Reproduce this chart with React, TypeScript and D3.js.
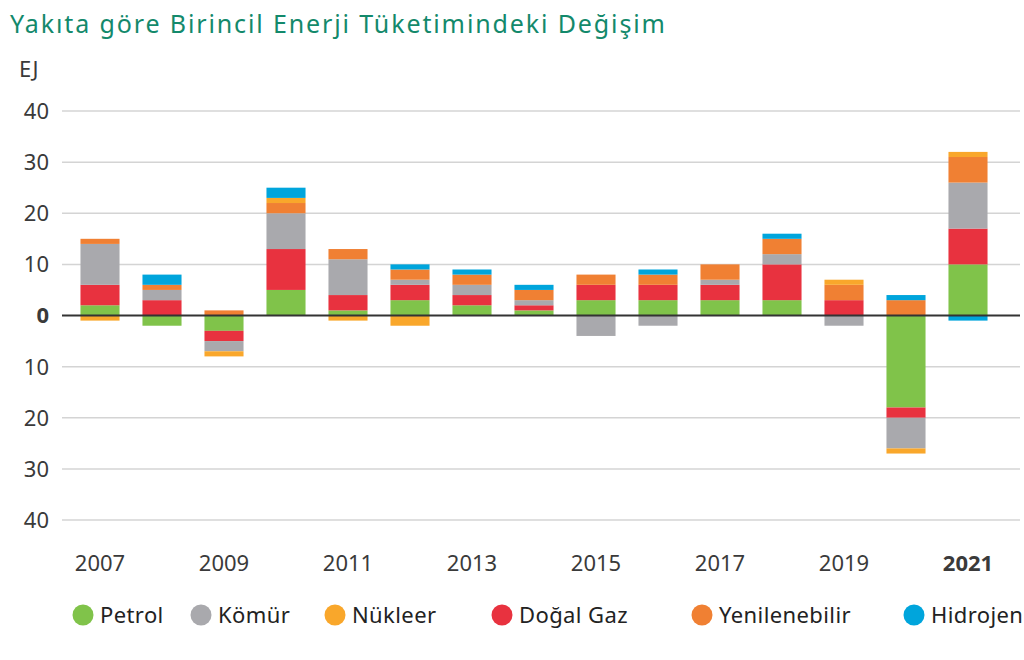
import { useEffect, useRef } from "react";
import * as d3 from "d3";

const years = [2007, 2008, 2009, 2010, 2011, 2012, 2013, 2014, 2015, 2016, 2017, 2018, 2019, 2020, 2021];
const labelYears = [2007, 2009, 2011, 2013, 2015, 2017, 2019, 2021];

// EJ, change vs previous year
const petrol = [2, -2, -3, 5, 1, 3, 2, 1, 3, 3, 3, 3, 0, -18, 10];
const dogalGaz = [4, 3, -2, 8, 3, 3, 2, 1, 3, 3, 3, 7, 3, -2, 7];
const komur = [8, 2, -2, 7, 7, 1, 2, 1, -4, -2, 1, 2, -2, -6, 9];
const yenilenebilir = [1, 1, 1, 2, 2, 2, 2, 2, 2, 2, 3, 3, 3, 3, 5];
const nukleer = [-1, 0, -1, 1, -1, -2, 0, 0, 0, 0, 0, 0, 1, -1, 1];
const hidro = [0, 2, 0, 2, 0, 1, 1, 1, 0, 1, 0, 1, 0, 1, -1];

const yTicks = [-40, -30, -20, -10, 0, 10, 20, 30, 40];

const stackKeys = ["Petrol", "Doğal Gaz", "Kömür", "Yenilenebilir", "Nükleer", "Hidrojen"];
const legendKeys = ["Petrol", "Kömür", "Nükleer", "Doğal Gaz", "Yenilenebilir", "Hidrojen"];

const colors: Record<string, string> = {
  Petrol: "#80c34a",
  Kömür: "#a9a9ad",
  Nükleer: "#f9a72b",
  "Doğal Gaz": "#e8323f",
  Yenilenebilir: "#f08033",
  Hidrojen: "#00a5dc",
};

const legendX = [83, 201, 335, 502, 702, 914];

export default function App() {
  const ref = useRef<SVGSVGElement>(null);

  useEffect(() => {
    document.body.style.margin = "0";
    if (!ref.current) return;
    const svg = d3.select(ref.current);
    svg.selectAll("*").remove();

    const font = "'Noto Sans', sans-serif";

    const rows = years.map((y, i) => ({
      year: y,
      Petrol: petrol[i],
      "Doğal Gaz": dogalGaz[i],
      Kömür: komur[i],
      Yenilenebilir: yenilenebilir[i],
      Nükleer: nukleer[i],
      Hidrojen: hidro[i],
    }));

    const series = d3
      .stack<any>()
      .keys(stackKeys)
      .offset(d3.stackOffsetDiverging)(rows);

    const x = d3
      .scaleBand<number>()
      .domain(years)
      .range([69, 999])
      .paddingInner(0.37)
      .paddingOuter(0.185);

    const y = d3.scaleLinear().domain([-40, 40]).range([520, 111]);

    // title
    svg
      .append("text")
      .attr("x", 10)
      .attr("y", 33)
      .attr("font-family", font)
      .attr("font-size", 25)
      .attr("textLength", 655)
      .attr("lengthAdjust", "spacing")
      .attr("fill", "#13896b")
      .text("Yakıta göre Birincil Enerji Tüketimindeki Değişim");

    svg
      .append("text")
      .attr("x", 19)
      .attr("y", 77)
      .attr("font-family", font)
      .attr("font-size", 22)
      .attr("fill", "#3a3a3a")
      .text("EJ");

    // gridlines
    svg
      .append("g")
      .selectAll("line")
      .data(yTicks.filter((t) => t !== 0))
      .join("line")
      .attr("x1", 62)
      .attr("x2", 1020)
      .attr("y1", (d) => y(d))
      .attr("y2", (d) => y(d))
      .attr("stroke", "#d4d4d4")
      .attr("stroke-width", 1.5);

    svg
      .append("g")
      .selectAll("text")
      .data(yTicks)
      .join("text")
      .attr("x", 49)
      .attr("y", (d) => y(d))
      .attr("dy", "0.36em")
      .attr("text-anchor", "end")
      .attr("font-family", font)
      .attr("font-size", 22)
      .attr("font-weight", (d) => (d === 0 ? 700 : 400))
      .attr("fill", "#3a3a3a")
      .text((d) => String(Math.abs(d)));

    // bars
    svg
      .append("g")
      .selectAll("g")
      .data(series)
      .join("g")
      .attr("fill", (s) => colors[s.key])
      .selectAll("rect")
      .data((s) => s)
      .join("rect")
      .attr("x", (d) => x(d.data.year) ?? 0)
      .attr("width", x.bandwidth())
      .attr("y", (d) => y(Math.max(d[0], d[1])))
      .attr("height", (d) => Math.abs(y(d[0]) - y(d[1])));

    // zero line
    svg
      .append("line")
      .attr("x1", 62)
      .attr("x2", 1020)
      .attr("y1", y(0))
      .attr("y2", y(0))
      .attr("stroke", "#333")
      .attr("stroke-width", 2);

    // x labels
    svg
      .append("g")
      .selectAll("text")
      .data(labelYears)
      .join("text")
      .attr("x", (d) => (x(d) ?? 0) + x.bandwidth() / 2)
      .attr("y", 571)
      .attr("text-anchor", "middle")
      .attr("font-family", font)
      .attr("font-size", 22)
      .attr("font-weight", (d) => (d === 2021 ? 700 : 400))
      .attr("fill", "#3a3a3a")
      .text((d) => String(d));

    // legend
    const lg = svg
      .append("g")
      .selectAll("g")
      .data(legendKeys)
      .join("g")
      .attr("transform", (_d, i) => `translate(${legendX[i]},615)`);
    lg.append("circle").attr("r", 10.5).attr("fill", (d) => colors[d]);
    lg.append("text")
      .attr("x", 17)
      .attr("dy", "0.36em")
      .attr("font-family", font)
      .attr("font-size", 22)
      .attr("letter-spacing", 0.4)
      .attr("fill", "#222")
      .text((d) => d);
  }, []);

  return <svg ref={ref} width={1024} height={660} style={{ display: "block", background: "#fff" }} />;
}
